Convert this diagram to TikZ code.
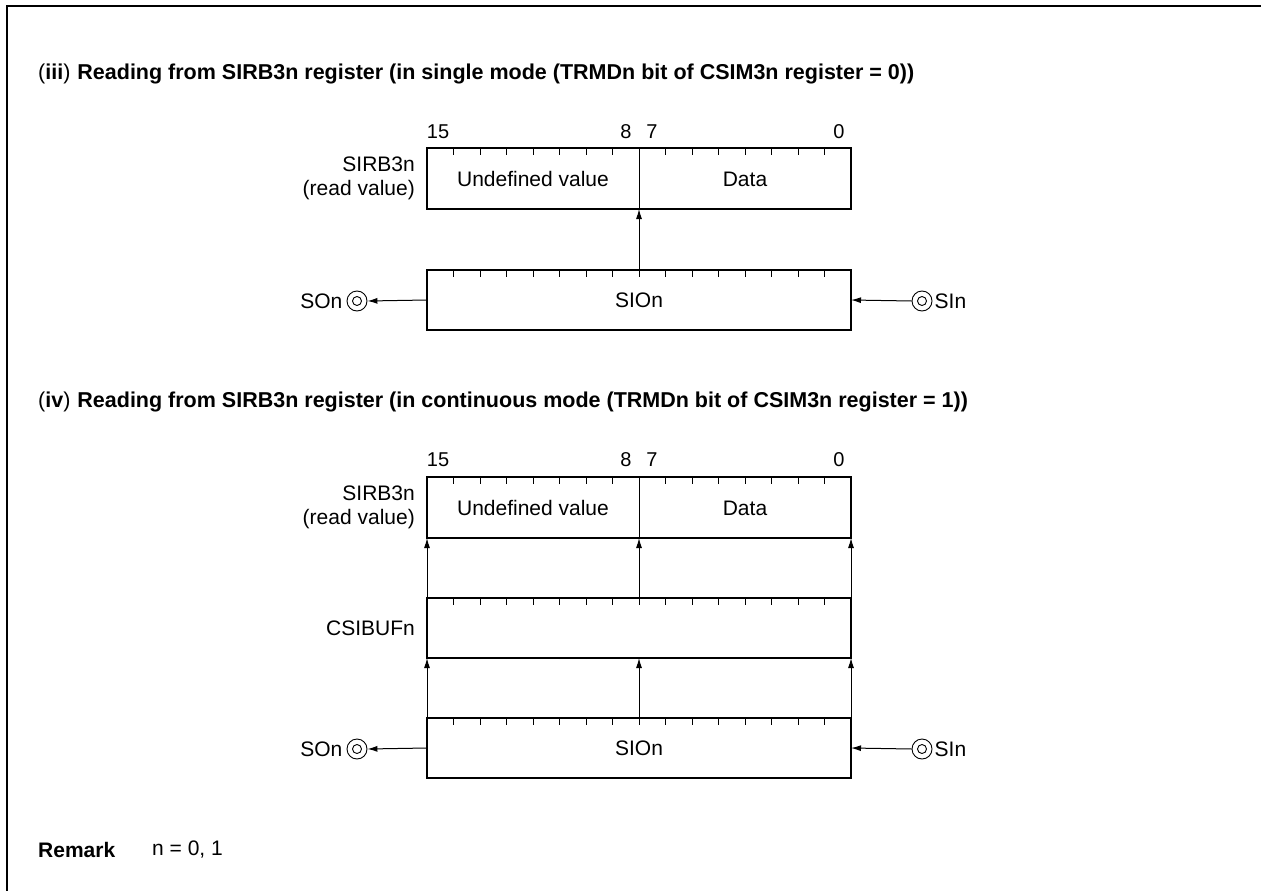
\documentclass[tikz,border=0pt]{standalone}
\usepackage{fontspec}
\setmainfont{Liberation Sans}
\usetikzlibrary{arrows.meta}
\newcommand{\regticks}[1]{\foreach \i in {1,...,15} \draw[line width=1pt] (#1.north west) ++(\i*26.5,0) -- ++(0,7);}
\begin{document}
\begin{tikzpicture}[x=1pt,y=-1pt,
  reg/.style={draw, line width=2.4pt, minimum width=424pt, minimum height=61pt, inner sep=0pt, outer sep=0pt, font=\fontsize{21}{24}\selectfont},
  lbl/.style={font=\fontsize{21}{24}\selectfont, inner sep=0pt},
  bit/.style={font=\fontsize{20}{24}\selectfont, inner sep=0pt},
  ttl/.style={font=\fontsize{21.5}{25}\selectfont, anchor=base west, inner sep=0pt},
  conn/.style={line width=1pt, -{Latex[length=10pt,width=6pt]}},
  pin/.style={circle, draw, line width=0.9pt, minimum size=20pt, inner sep=0pt},
  pinin/.style={circle, draw, line width=0.9pt, minimum size=9pt, inner sep=0pt},
  thin/.style={line width=1pt}
]
\useasboundingbox (0,0) rectangle (1261,891);
\draw[line width=2.5pt] (7,895) -- (7,6) -- (1265,6);

% ---------- (iii) ----------
\node[ttl] (t1) at (38,79) {(\textbf{iii})\hspace{7pt}\textbf{Reading from SIRB3n register (in single mode (TRMDn bit of CSIM3n register = 0))}};

\node[bit] (b15a) at (438,132) {15};
\node[bit] (b8a) at (626,132) {8};
\node[bit] (b7a) at (652,132) {7};
\node[bit] (b0a) at (839,132) {0};

\node[reg] (r1) at (639,178.5) {};
\regticks{r1}
\draw[thin] (r1.north) -- (r1.south);
\node[lbl] (u1) at (533,179) {Undefined value};
\node[lbl] (d1) at (745,179) {Data};
\node[lbl, anchor=east, align=right] (l1) at (415,178) {SIRB3n\\(read value)};

\node[reg, minimum height=60pt] (s1) at (639,300) {SIOn};
\regticks{s1}
\draw[conn] (s1.north) -- (r1.south);

\node[pin] (son1) at (357,301) {};
\node[pinin] (son1i) at (son1.center) {};
\node[lbl, anchor=east] (son1t) at ([xshift=-4pt]son1.west) {SOn};
\draw[conn] (s1.west) -- (son1.east);

\node[pin] (sin1) at (922,301) {};
\node[pinin] (sin1i) at (sin1.center) {};
\node[lbl, anchor=west] (sin1t) at ([xshift=2pt]sin1.east) {SIn};
\draw[conn] (sin1.west) -- (s1.east);

% ---------- (iv) ----------
\node[ttl] (t2) at (38,407) {(\textbf{iv})\hspace{7pt}\textbf{Reading from SIRB3n register (in continuous mode (TRMDn bit of CSIM3n register = 1))}};

\node[bit] (b15b) at (438,460) {15};
\node[bit] (b8b) at (626,460) {8};
\node[bit] (b7b) at (652,460) {7};
\node[bit] (b0b) at (839,460) {0};

\node[reg] (r2) at (639,507.5) {};
\regticks{r2}
\draw[thin] (r2.north) -- (r2.south);
\node[lbl] (u2) at (533,508) {Undefined value};
\node[lbl] (d2) at (745,508) {Data};
\node[lbl, anchor=east, align=right] (l2) at (415,507) {SIRB3n\\(read value)};

\node[reg, minimum height=60pt] (c2) at (639,628) {};
\regticks{c2}
\node[lbl, anchor=east] (l3) at (415,628) {CSIBUFn};
\draw[conn] (c2.north west) -- (r2.south west);
\draw[conn] (c2.north) -- (r2.south);
\draw[conn] (c2.north east) -- (r2.south east);

\node[reg, minimum height=60pt] (s2) at (639,748) {SIOn};
\regticks{s2}
\draw[conn] (s2.north west) -- (c2.south west);
\draw[conn] (s2.north) -- (c2.south);
\draw[conn] (s2.north east) -- (c2.south east);

\node[pin] (son2) at (357,749) {};
\node[pinin] (son2i) at (son2.center) {};
\node[lbl, anchor=east] (son2t) at ([xshift=-4pt]son2.west) {SOn};
\draw[conn] (s2.west) -- (son2.east);

\node[pin] (sin2) at (922,749) {};
\node[pinin] (sin2i) at (sin2.center) {};
\node[lbl, anchor=west] (sin2t) at ([xshift=2pt]sin2.east) {SIn};
\draw[conn] (sin2.west) -- (s2.east);

% ---------- remark ----------
\node[lbl, anchor=west] (rm) at (38,850) {\textbf{Remark}};
\node[lbl, anchor=west] (rmv) at (152,850) {n = 0, 1};
\end{tikzpicture}
\end{document}
